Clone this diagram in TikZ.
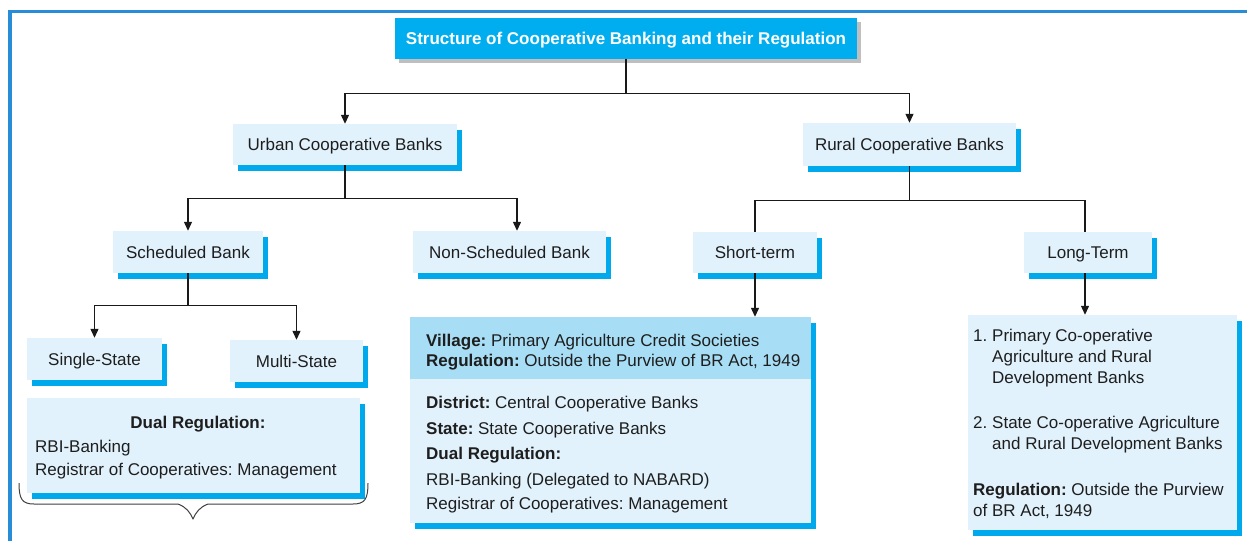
\documentclass[tikz,border=0pt]{standalone}
\usepackage{fontspec}
\setmainfont{Liberation Sans}
\usetikzlibrary{arrows.meta,shadows}
\definecolor{frameblue}{RGB}{40,140,215}
\definecolor{titlecyan}{RGB}{0,174,239}
\definecolor{lightfill}{RGB}{225,242,252}
\definecolor{headfill}{RGB}{168,222,245}
\definecolor{shadowblue}{RGB}{0,168,236}
\definecolor{txt}{RGB}{30,30,30}
\definecolor{linec}{RGB}{25,25,25}
\frenchspacing
\begin{document}
\begin{tikzpicture}[x=1pt,y=-1pt,
  every node/.style={font=\fontsize{17}{20}\selectfont\frenchspacing, text=txt},
  box/.style={fill=lightfill, inner sep=0pt, text height=14pt, text depth=2pt,
    drop shadow={shadow xshift=5pt, shadow yshift=-6pt, fill=shadowblue, opacity=1}},
  titlebox/.style={fill=titlecyan, inner sep=0pt, text=white, text height=14pt, text depth=2pt,
    font=\fontsize{17}{20}\selectfont\bfseries,
    drop shadow={shadow xshift=4pt, shadow yshift=-4pt, fill=black!25, opacity=1}},
  ln/.style={anchor=base west, inner sep=0pt},
  lnc/.style={anchor=base, inner sep=0pt},
  conn/.style={draw=linec, line width=1.2pt},
  arr/.style={conn, -{Triangle[width=8pt,length=9pt]}}
]
\useasboundingbox (0,0) rectangle (1247,541);
\fill[white] (0,0) rectangle (1247,541);
% frame
\draw[frameblue, line width=3.5pt] (10,541) -- (10,11.5) -- (1247,11.5);

% nodes
\node[titlebox, minimum width=462pt, minimum height=41pt] (title) at (626,38.5) {Structure of Cooperative Banking and their Regulation};
\node[box, minimum width=224pt, minimum height=41pt] (urban) at (345,144.5) {Urban Cooperative Banks};
\node[box, minimum width=213pt, minimum height=43pt] (rural) at (909.5,144.5) {Rural Cooperative Banks};
\node[box, minimum width=150pt, minimum height=42pt] (sched) at (188,252) {Scheduled Bank};
\node[box, minimum width=193pt, minimum height=42pt] (nonsched) at (509.5,252) {Non-Scheduled Bank};
\node[box, minimum width=124pt, minimum height=41pt] (short) at (755,252.5) {Short-term};
\node[box, minimum width=128pt, minimum height=41pt] (long) at (1088,252.5) {Long-Term};
\node[box, minimum width=135pt, minimum height=42pt] (single) at (94.5,359) {Single-State};
\node[box, minimum width=133pt, minimum height=42pt] (multi) at (296.5,361) {Multi-State};

% dual regulation box
\node[box, minimum width=333pt, minimum height=95pt] (dual) at (193.5,445.5) {};
\node[lnc] (d1) at (198,428) {\bfseries Dual Regulation:};
\node[ln] (d2) at (35,452) {RBI-Banking};
\node[ln] (d3) at (35,475) {Registrar of Cooperatives: Management};

% middle box
\node[box, fill=headfill, minimum width=401pt, minimum height=62pt] (midhead) at (610.5,348) {};
\node[box, minimum width=401pt, minimum height=144pt] (midbody) at (610.5,451) {};
\node[ln] (m1) at (426,346) {\textbf{Village:} Primary Agriculture Credit Societies};
\node[ln] (m2) at (426,366) {\textbf{Regulation:} Outside the Purview of BR Act, 1949};
\node[ln] (m3) at (426,408) {\textbf{District:} Central Cooperative Banks};
\node[ln] (m4) at (426,434) {\textbf{State:} State Cooperative Banks};
\node[ln] (m5) at (426,459) {\textbf{Dual Regulation:}};
\node[ln] (m6) at (426,485) {RBI-Banking (Delegated to NABARD)};
\node[ln] (m7) at (426,509) {Registrar of Cooperatives: Management};

% right box
\node[box, minimum width=269pt, minimum height=215pt] (rbox) at (1102.5,422.5) {};
\node[ln] (n1) at (973,341) {1.};
\node[ln] (r1) at (992,341) {Primary Co-operative};
\node[ln] (r2) at (992,362) {Agriculture and Rural};
\node[ln] (r3) at (992,383) {Development Banks};
\node[ln] (n2) at (973,428) {2.};
\node[ln] (r4) at (992,428) {State Co-operative Agriculture};
\node[ln] (r5) at (992,449) {and Rural Development Banks};
\node[ln] (r6) at (973,495) {\textbf{Regulation:} Outside the Purview};
\node[ln] (r7) at (973,516) {of BR Act, 1949};

% connectors
\draw[arr] (title.south) -- ++(0,34.5) -| (urban.north);
\draw[arr] (title.south) -- ++(0,34.5) -| (rural.north);
\draw[arr] (urban.south) -- ++(0,33) -| (sched.north);
\draw[arr] (urban.south) -- ++(0,33) -| ([xshift=7.5pt]nonsched.north);
\draw[conn] (rural.south) -- ++(0,34) -| (short.north);
\draw[conn] (rural.south) -- ++(0,34) -| ([xshift=-3pt]long.north);
\draw[arr] (sched.south) -- ++(0,32) -| (single.north);
\draw[arr] (sched.south) -- ++(0,32) -| (multi.north);
\draw[arr] (short.south) -- (short.south |- midhead.north);
\draw[arr] ([xshift=-3pt]long.south) -- ([xshift=-3pt]long.south |- rbox.north);

% brace
\draw[black!75, line width=1pt, line join=round]
  (19,483) .. controls (19,499) and (22,504) .. (34,504)
  -- (178,504) .. controls (186,507) and (190,512) .. (193,519)
  .. controls (196,512) and (200,507) .. (208,504)
  -- (353,504) .. controls (365,504) and (368,499) .. (368,483);
\end{tikzpicture}
\end{document}
